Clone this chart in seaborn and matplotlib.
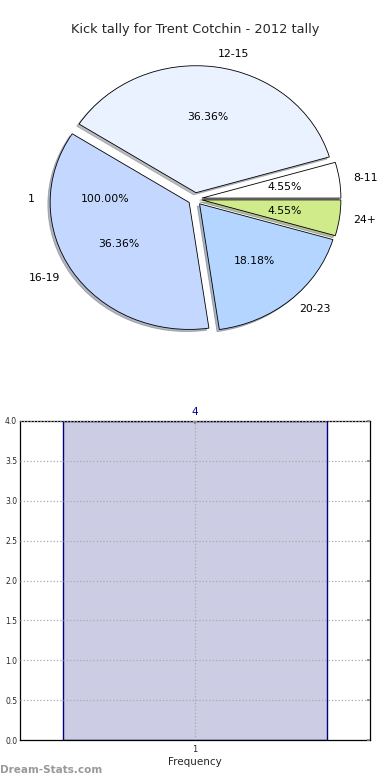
import matplotlib
matplotlib.use("Agg")
import matplotlib.pyplot as plt
import seaborn as sns
import pandas as pd

sns.set_theme(style="white")
plt.rcParams['font.family'] = ['DejaVu Sans']

title = "Kick tally for Trent Cotchin - 2012 tally"
pie_labels = ["8-11", "12-15", "16-19", "20-23", "24+"]
pie_values = [1, 8, 8, 4, 1]
pie_colors = ["#ffffff", "#eaf1ff", "#c4d8ff", "#b3d5ff", "#cfeb8a"]
extra_label = ["1"]
extra_value = [1]

bar_categories = ["1"]
bar_values = [4]
yticks = [0.0, 0.5, 1.0, 1.5, 2.0, 2.5, 3.0, 3.5, 4.0]

fig = plt.figure(figsize=(3.9, 7.8), dpi=100)

# Pie axes
W, H = 390, 780
cx, cy = 195, 199
rx, ry = 139, 127
L = 1.3
axp = fig.add_axes([(cx - rx * L) / W, (H - cy - ry * L) / H, 2 * rx * L / W, 2 * ry * L / H])
axp.pie(extra_value, labels=extra_label, autopct="%.2f%%", startangle=0, explode=[0.05],
        wedgeprops=dict(facecolor="none", edgecolor="none"),
        textprops=dict(fontsize=7.8, color="black"))
axp.pie(pie_values, labels=pie_labels, colors=pie_colors, explode=[0.05] * 5,
        autopct="%.2f%%", shadow={"ox": -0.012, "oy": -0.012, "shade": 0.5},
        startangle=0,
        wedgeprops=dict(edgecolor="black", linewidth=0.6),
        textprops=dict(fontsize=7.8, color="black"))
axp.set_aspect("auto")
axp.set_xlim(-L, L)
axp.set_ylim(-L, L)
axp.axis("off")
fig.text(0.5, 1 - 30 / H, title, ha="center", va="center", fontsize=9.3)

# Bar axes
axb = fig.add_axes([20 / W, 40 / H, 350 / W, 319 / H])
df = pd.DataFrame({"cat": bar_categories, "val": bar_values})
sns.barplot(data=df, x="cat", y="val", ax=axb, color="#ccccE4", saturation=1,
            edgecolor="#000080", linewidth=1, width=0.8, zorder=1)
for p, v in zip(axb.patches, bar_values):
    axb.text(p.get_x() + p.get_width() / 2, p.get_height() + 0.05, str(v),
             ha="center", va="bottom", fontsize=7.5, color="#000099")
axb.set_xlim(-0.53, 0.53)
axb.set_ylim(0, 4)
axb.set_yticks(yticks)
axb.set_yticklabels([f"{t:.1f}" for t in yticks], fontsize=5.5)
axb.tick_params(axis="x", labelsize=6, direction="in", length=2, top=True, color="#888888")
axb.tick_params(axis="y", direction="in", length=2, right=True, pad=2, color="#888888")
axb.grid(True, linestyle=":", color="#aaaaaa", linewidth=0.9, zorder=2)
axb.set_axisbelow(False)
for s in axb.spines.values():
    s.set_color("black")
    s.set_linewidth(0.9)
axb.set_xlabel("Frequency", fontsize=7.5, labelpad=2)
axb.set_ylabel("")
fig.text(0.0, 1 - 770 / H, "Dream-Stats.com", ha="left", va="center",
         fontsize=7.5, color="#999999", fontweight="bold")

fig.savefig("out.png", dpi=100)
